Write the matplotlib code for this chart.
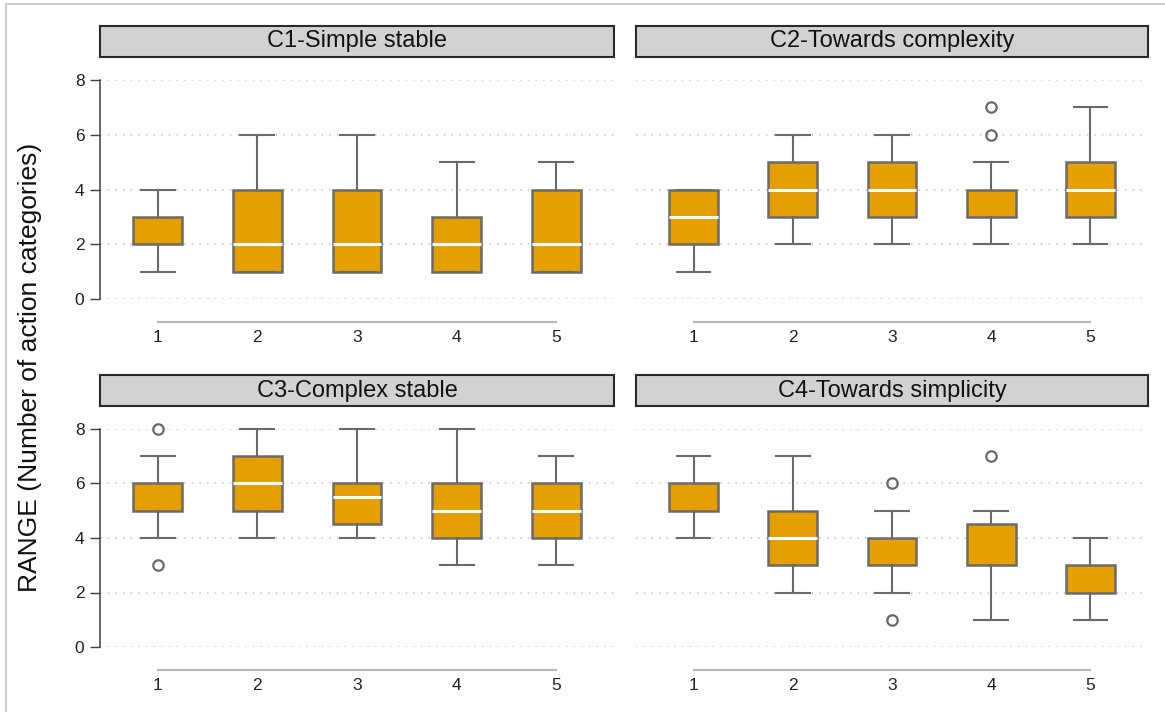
#!/usr/bin/env python3
"""Box plots of RANGE (number of action categories) by step, one panel per trajectory class."""
import matplotlib
matplotlib.use("Agg")
import matplotlib.pyplot as plt
from matplotlib.patches import Rectangle

plt.rcParams["font.family"] = ["Liberation Sans", "DejaVu Sans"]

PANELS = ["C1-Simple stable", "C2-Towards complexity", "C3-Complex stable", "C4-Towards simplicity"]
CATS = [1, 2, 3, 4, 5]

# per panel: lower whisker, q1, median, q3, upper whisker, outside values
C1_LO = [1, 1, 1, 1, 1]
C1_Q1 = [2, 1, 1, 1, 1]
C1_MED = [3, 2, 2, 2, 2]
C1_Q3 = [3, 4, 4, 3, 4]
C1_HI = [4, 6, 6, 5, 5]
C1_OUT = [[], [], [], [], []]

C2_LO = [1, 2, 2, 2, 2]
C2_Q1 = [2, 3, 3, 3, 3]
C2_MED = [3, 4, 4, 4, 4]
C2_Q3 = [4, 5, 5, 4, 5]
C2_HI = [4, 6, 6, 5, 7]
C2_OUT = [[], [], [], [6, 7], []]

C3_LO = [4, 4, 4, 3, 3]
C3_Q1 = [5, 5, 4.5, 4, 4]
C3_MED = [6, 6, 5.5, 5, 5]
C3_Q3 = [6, 7, 6, 6, 6]
C3_HI = [7, 8, 8, 8, 7]
C3_OUT = [[3, 8], [], [], [], []]

C4_LO = [4, 2, 2, 1, 1]
C4_Q1 = [5, 3, 3, 3, 2]
C4_MED = [6, 4, 4, 4.5, 3]
C4_Q3 = [6, 5, 4, 4.5, 3]
C4_HI = [7, 7, 5, 5, 4]
C4_OUT = [[], [], [1, 6], [7], []]

YTICKS = [0, 2, 4, 6, 8]
YLABEL = "RANGE (Number of action categories)"

BOX_FILL = "#E69F00"
LINE_GREY = "#6a6a6a"
W, H = 1165, 712


def _stats(lo, q1, med, q3, hi, out):
    return [dict(whislo=a, q1=b, med=c, q3=d, whishi=e, fliers=f)
            for a, b, c, d, e, f in zip(lo, q1, med, q3, hi, out)]


def draw_panel(fig, rect, title, stats, show_y):
    x0, y0, x1, y1 = rect  # pixel box, top-origin
    ax = fig.add_axes([x0 / W, (H - y1) / H, (x1 - x0) / W, (y1 - y0) / H])
    art = ax.bxp(stats, positions=CATS, widths=0.49, patch_artist=True, showfliers=True,
                 boxprops=dict(facecolor=BOX_FILL, edgecolor=LINE_GREY, linewidth=1.8),
                 whiskerprops=dict(color=LINE_GREY, linewidth=1.5),
                 capprops=dict(color=LINE_GREY, linewidth=1.5),
                 capwidths=0.34,
                 medianprops=dict(color="white", linewidth=2.2),
                 flierprops=dict(marker="o", markersize=7.5, markerfacecolor="none",
                                 markeredgecolor=LINE_GREY, markeredgewidth=1.6))
    for group in art.values():
        for a in group:
            a.set_clip_on(False)
    # a median sitting on a box edge only shows as a light fringe
    for s, ln in zip(stats, art["medians"]):
        if s["med"] in (s["q1"], s["q3"]):
            ln.set_zorder(0.9)

    ax.set_xlim(0.42, 5.58)
    ax.set_ylim(0, 8)
    ax.set_yticks(YTICKS)
    ax.set_xticks(CATS)
    ax.set_xticklabels([str(c) for c in CATS])
    ax.set_axisbelow(True)
    ax.yaxis.grid(True, color="#c4c4c4", linestyle=(0, (1, 4)), linewidth=1.1)
    ax.xaxis.grid(False)
    for s in ("top", "right"):
        ax.spines[s].set_visible(False)
    ax.spines["bottom"].set_bounds(1, 5)
    ax.spines["bottom"].set_position(("outward", 16.6))
    ax.spines["bottom"].set_color("#b8b8b8")
    ax.spines["bottom"].set_linewidth(1.5)
    ax.tick_params(axis="x", length=0, pad=6, labelsize=12.5, labelcolor="#222222")
    if show_y:
        ax.spines["left"].set_color("#404040")
        ax.spines["left"].set_linewidth(1.1)
        ax.tick_params(axis="y", length=7.2, width=1.0, color="#404040", pad=4,
                       labelsize=12.5, labelcolor="#222222")
    else:
        ax.spines["left"].set_visible(False)
        ax.tick_params(axis="y", length=0, labelleft=False)

    # title strip above the plot region
    sy0, sy1 = y0 - 54, y0 - 23
    fig.add_artist(Rectangle((x0 / W, (H - sy1) / H), (x1 - x0) / W, (sy1 - sy0) / H,
                             transform=fig.transFigure, facecolor="#d2d2d2",
                             edgecolor="#2a2a2a", linewidth=1.5))
    fig.text((x0 + x1) / 2 / W, (H - (sy0 + sy1) / 2) / H, title, ha="center", va="center",
             fontsize=17, color="#111111")
    return ax


def main():
    fig = plt.figure(figsize=(W / 100, H / 100), dpi=100)
    fig.add_artist(Rectangle((6 / W, -0.05), 1.05, 1 - 4 / H + 0.05, transform=fig.transFigure,
                             facecolor="none", edgecolor="#cccccc", linewidth=1.5))
    all_stats = [
        _stats(C1_LO, C1_Q1, C1_MED, C1_Q3, C1_HI, C1_OUT),
        _stats(C2_LO, C2_Q1, C2_MED, C2_Q3, C2_HI, C2_OUT),
        _stats(C3_LO, C3_Q1, C3_MED, C3_Q3, C3_HI, C3_OUT),
        _stats(C4_LO, C4_Q1, C4_MED, C4_Q3, C4_HI, C4_OUT),
    ]
    rects = [(100, 80, 614, 299), (636, 80, 1148, 299),
             (100, 429, 614, 647), (636, 429, 1148, 647)]
    for i, (title, st, rc) in enumerate(zip(PANELS, all_stats, rects)):
        draw_panel(fig, rc, title, st, show_y=(i % 2 == 0))
    fig.text(30 / W, (H - 367) / H, YLABEL, rotation=90, ha="center", va="center",
             fontsize=19, color="#111111")
    fig.savefig("out.png", dpi=100)


if __name__ == "__main__":
    main()
